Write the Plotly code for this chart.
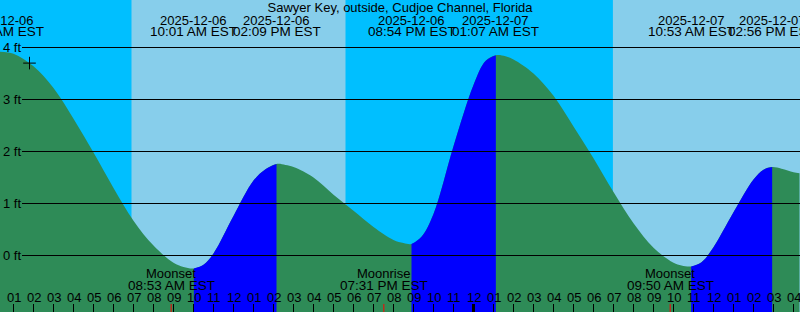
import plotly.graph_objects as go

station = "Sawyer Key, outside, Cudjoe Channel, Florida"

# Tide curve samples (hours since 2025-12-06 00:00 EST, feet)
sample_hours = [0.30, 1, 2, 3, 4, 5, 6, 7, 8, 9, 9.5, 10.017, 10.5, 11, 12, 13, 13.6,
                14.15, 14.6, 15, 16, 17, 18, 19, 20, 20.5, 20.9, 21.4, 22, 23, 24, 24.6,
                25.117, 25.6, 26, 27, 28, 29, 30, 31, 32, 33, 34, 34.4, 34.883, 35.4, 36,
                37, 38, 38.5, 38.933, 39.4, 40, 40.3]
sample_feet = [3.92, 3.88, 3.64, 3.22, 2.63, 1.98, 1.30, 0.67, 0.19, -0.14, -0.22, -0.25,
               -0.18, 0.04, 0.76, 1.44, 1.66, 1.76, 1.74, 1.70, 1.50, 1.17, 0.86, 0.55,
               0.30, 0.24, 0.22, 0.36, 0.80, 2.10, 3.28, 3.74, 3.85, 3.83, 3.77, 3.50,
               3.07, 2.48, 1.87, 1.22, 0.62, 0.15, -0.14, -0.19, -0.21, -0.13, 0.16, 0.83,
               1.46, 1.65, 1.70, 1.67, 1.60, 1.58]

# Tide events
tide_hours = [0.33, 10.017, 14.15, 20.9, 25.117, 34.883, 38.933]
tide_dates = ["2025-12-06", "2025-12-06", "2025-12-06", "2025-12-06",
              "2025-12-07", "2025-12-07", "2025-12-07"]
tide_times = ["12:20 AM EST", "10:01 AM EST", "02:09 PM EST", "08:54 PM EST",
              "01:07 AM EST", "10:53 AM EST", "02:56 PM EST"]
# rising (flood) intervals: low -> high
flood_intervals = [(10.017, 14.15), (20.9, 25.117), (34.883, 38.933)]

# Sun: daylight intervals
day_intervals = [(6.9, 17.6), (30.97, 40.325)]

# Moon events
moon_hours = [8.883, 19.517, 33.833]
moon_names = ["Moonset", "Moonrise", "Moonset"]
moon_times = ["08:53 AM EST", "07:31 PM EST", "09:50 AM EST"]

midnight_hours = [24]
mark_hours = [1.8]
mark_feet = [3.70]

hour_ticks = list(range(1, 41))
hour_labels = ["01", "02", "03", "04", "05", "06", "07", "08", "09", "10", "11", "12",
               "01", "02", "03", "04", "05", "06", "07", "08", "09", "10", "11", "12",
               "01", "02", "03", "04", "05", "06", "07", "08", "09", "10", "11", "12",
               "01", "02", "03", "04"]
level_ticks = [0, 1, 2, 3, 4]
level_labels = ["0 ft", "1 ft", "2 ft", "3 ft", "4 ft"]

NIGHT = "#00BFFF"
DAY = "#87CEEB"
EBB = "#2E8B57"
FLOOD = "#0000FF"
FONT = "Liberation Sans"
FS = 13
W, H = 800, 312
XR = [0.325, 40.325]
YR = [-1.0865, 4.9135]
BASE = -3

def py(px):
    return 1 - px / H

fig = go.Figure()

# ebb (whole curve)
fig.add_trace(go.Scatter(x=[sample_hours[0], sample_hours[-1]], y=[BASE, BASE], mode="lines",
                         line=dict(width=0), hoverinfo="skip", showlegend=False))
fig.add_trace(go.Scatter(x=sample_hours, y=sample_feet, mode="lines", fill="tonexty",
                         fillcolor=EBB, line=dict(width=0, shape="spline", color=EBB),
                         hoverinfo="skip", showlegend=False))
# flood segments
for a, b in flood_intervals:
    xs = [h for h in sample_hours if a - 1e-6 <= h <= b + 1e-6]
    ys = [f for h, f in zip(sample_hours, sample_feet) if a - 1e-6 <= h <= b + 1e-6]
    fig.add_trace(go.Scatter(x=[a, b], y=[BASE, BASE], mode="lines", line=dict(width=0),
                             hoverinfo="skip", showlegend=False))
    fig.add_trace(go.Scatter(x=xs, y=ys, mode="lines", fill="tonexty", fillcolor=FLOOD,
                             line=dict(width=0, shape="spline", color=FLOOD),
                             hoverinfo="skip", showlegend=False))

fig.add_trace(go.Scatter(x=mark_hours, y=mark_feet, mode="markers",
                         marker=dict(symbol="cross-thin", size=9,
                                     line=dict(width=1, color="black")),
                         hoverinfo="skip", showlegend=False))

shapes = []
for a, b in day_intervals:
    shapes.append(dict(type="rect", xref="x", yref="paper", x0=a, x1=b, y0=0, y1=1,
                       fillcolor=DAY, line=dict(width=0), layer="below"))
for lv in level_ticks:
    shapes.append(dict(type="line", xref="paper", yref="y", x0=22 / W, x1=1, y0=lv, y1=lv,
                       line=dict(color="black", width=1), layer="above"))
for m in midnight_hours:
    shapes.append(dict(type="line", xref="x", yref="paper", x0=m, x1=m, y0=0, y1=8 / H,
                       line=dict(color="black", width=3), layer="above"))
for m in moon_hours:
    shapes.append(dict(type="line", xref="x", yref="paper", x0=m, x1=m, y0=0, y1=8 / H,
                       line=dict(color="red", width=1), layer="above"))

ann = []
for h, d, t in zip(tide_hours, tide_dates, tide_times):
    ann.append(dict(x=h, y=py(20), xref="x", yref="paper", text=d, showarrow=False,
                    xanchor="center", yanchor="middle"))
    ann.append(dict(x=h, y=py(32), xref="x", yref="paper", text=t, showarrow=False,
                    xanchor="center", yanchor="middle", font=dict(size=13.5)))
for h, n, t in zip(moon_hours, moon_names, moon_times):
    ann.append(dict(x=h, y=py(273.5), xref="x", yref="paper", text=n, showarrow=False,
                    xanchor="center", yanchor="middle"))
    ann.append(dict(x=h, y=py(285.5), xref="x", yref="paper", text=t, showarrow=False,
                    xanchor="center", yanchor="middle", font=dict(size=13.5)))
for h, lab in zip(hour_ticks, hour_labels):
    ann.append(dict(x=h, y=py(297), xref="x", yref="paper", text=lab, showarrow=False,
                    xanchor="center", yanchor="middle"))
for lv, lab in zip(level_ticks, level_labels):
    ann.append(dict(x=0, y=lv, xref="paper", yref="y", text=lab, showarrow=False,
                    xanchor="left", yanchor="middle", xshift=1))

fig.update_layout(
    width=W, height=H, autosize=False,
    margin=dict(l=0, r=0, t=0, b=0, pad=0),
    plot_bgcolor=NIGHT, paper_bgcolor=NIGHT,
    font=dict(family=FONT, size=FS, color="black"),
    title=dict(text=station, x=0.5, xanchor="center", y=py(7.5), yanchor="middle",
               xref="paper", yref="container", font=dict(family=FONT, size=FS, color="black")),
    shapes=shapes, annotations=ann, showlegend=False,
    xaxis=dict(range=XR, tickvals=hour_ticks, showticklabels=False, ticks="inside",
               ticklen=8, tickwidth=1, tickcolor="black",
               showgrid=False, zeroline=False, showline=False, fixedrange=True),
    yaxis=dict(range=YR, showticklabels=False, ticks="", showgrid=False, zeroline=False,
               showline=False, fixedrange=True),
)

fig.write_html("out.html")
